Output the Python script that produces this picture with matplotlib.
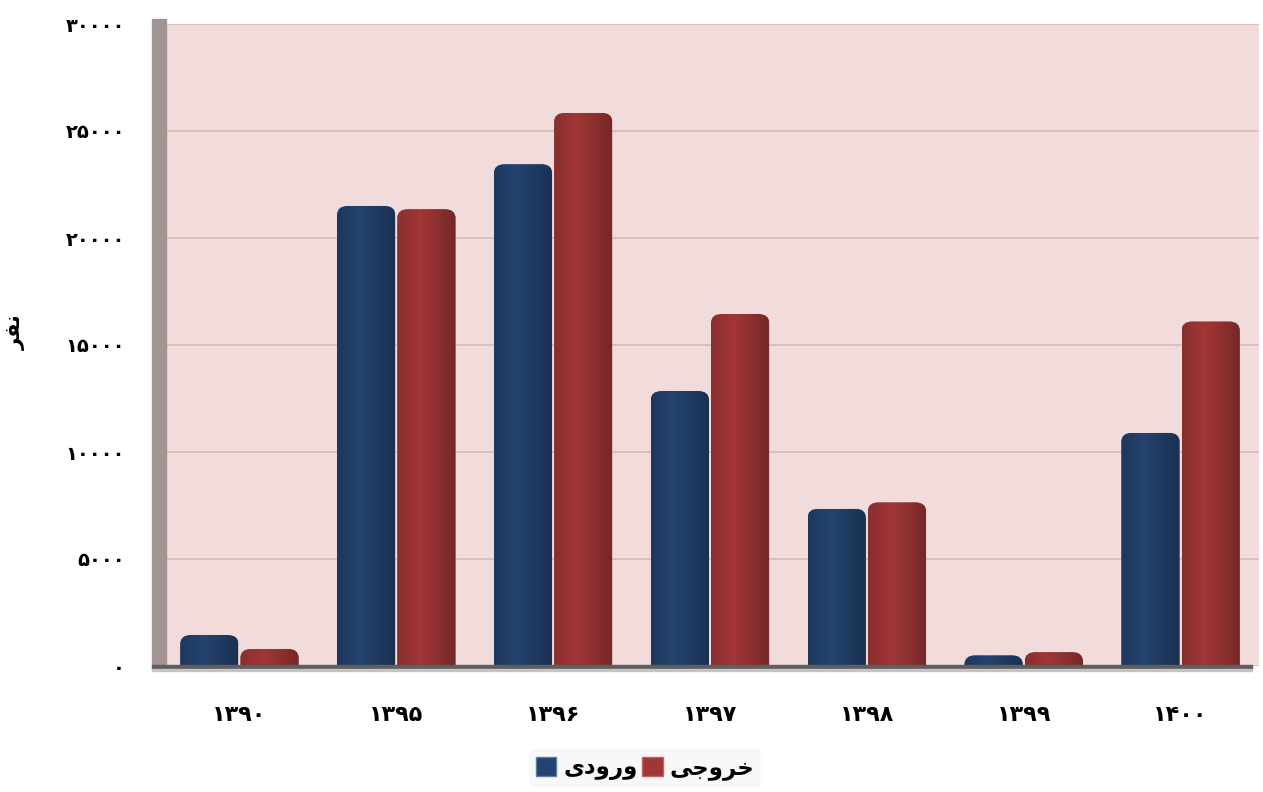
import matplotlib
matplotlib.use("Agg")
import matplotlib.pyplot as plt
import numpy as np
from matplotlib.patches import Rectangle, Patch, FancyBboxPatch

years = ['۱۳۹۰', '۱۳۹۵', '۱۳۹۶', '۱۳۹۷', '۱۳۹۸', '۱۳۹۹', '۱۴۰۰']
entering = [1450, 21500, 23450, 12850, 7350, 500, 10900]
leaving = [800, 21350, 25850, 16450, 7650, 650, 16100]
yticks = [0, 5000, 10000, 15000, 20000, 25000, 30000]

# visual (pre-shaped, left-to-right) forms of Persian words
lbl_enter = '\uFEEF\uFEA9\uFEED\uFEAD\uFEED'      # ورودی
lbl_leave = '\uFEF0\uFE9F\uFEED\uFEAE\uFEA7'      # خروجی
lbl_y = '\uFEAE\uFED4\uFEE7'                      # نفر

fa_digits = str.maketrans('0123456789', '۰۱۲۳۴۵۶۷۸۹')

plt.rcParams['font.family'] = ['DejaVu Sans']

fig = plt.figure(figsize=(12.63, 7.92), dpi=100)
ax = fig.add_axes([161/1263, (792-666)/792, (1259-161)/1263, (666-24)/792])
ax.set_facecolor('#F2DCDB')

x = np.arange(len(years))
w = 0.372
blue = '#23426E'
red = '#A03636'
b1 = ax.bar(x - w/2 - 0.006, entering, w, color=blue, zorder=3, label=lbl_enter)
b2 = ax.bar(x + w/2 + 0.006, leaving, w, color=red, zorder=3, label=lbl_leave)

ax.set_xlim(-0.5, len(years) - 0.5)
ax.set_ylim(0, 30000)

# cylindrical shading overlay + rounded tops
grad = np.linspace(0, 1, 64)
shade = 0.5 * np.abs(grad - 0.38) ** 1.2
rgba = np.zeros((1, 64, 4))
rgba[0, :, 3] = shade
rx = 0.07                      # rounding in x data units
ry = 430.0                     # rounding in y data units
for bars in (b1, b2):
    for bar in bars:
        bx, bw, bh = bar.get_x(), bar.get_width(), bar.get_height()
        clip = FancyBboxPatch((bx, -2 * ry), bw, bh + 2 * ry,
                              boxstyle=f"round,pad=0,rounding_size={rx}",
                              mutation_aspect=ry / rx, transform=ax.transData)
        bar.set_clip_path(clip)
        im = ax.imshow(rgba, extent=[bx, bx + bw, 0, bh], aspect='auto',
                       zorder=4, interpolation='bilinear')
        im.set_clip_path(clip)

ax.set_xlim(-0.5, len(years) - 0.5)
ax.set_ylim(0, 30000)
ax.set_yticks(yticks)
ax.set_yticklabels([str(v).translate(fa_digits) for v in yticks])
ax.set_xticks(x)
ax.set_xticklabels(years)
ax.grid(axis='y', color='#DCBBBA', linewidth=1.3, zorder=1)
ax.tick_params(length=0)
ax.tick_params(axis='y', pad=26, labelsize=14)
ax.tick_params(axis='x', pad=28, labelsize=16)
for t in ax.get_xticklabels() + ax.get_yticklabels():
    t.set_fontweight('bold')
for s in ax.spines.values():
    s.set_visible(False)
ax.set_autoscale_on(False)

# 3D-like side wall and floor
ax.add_patch(Rectangle((-0.008, 0), 0.013, 1.008, transform=ax.transAxes,
                       color='#A39494', clip_on=False, zorder=2))
ax.add_patch(Rectangle((-0.008, -0.004), 1.002, 0.005, transform=ax.transAxes,
                       color='#5E5E5E', clip_on=False, zorder=5))
ax.add_patch(Rectangle((-0.008, -0.008), 1.002, 0.004, transform=ax.transAxes,
                       color='#C4C4C4', clip_on=False, zorder=5))

ax.set_ylabel(lbl_y, fontsize=15, fontweight='bold')
ax.yaxis.set_label_coords(-0.123, 0.52)

handles = [Patch(facecolor=blue, edgecolor='#5A7AA8'), Patch(facecolor=red, edgecolor='#C86060')]
leg = fig.legend(handles, [lbl_enter, lbl_leave], loc='center', ncol=2,
                 bbox_to_anchor=(645/1263, (792-768)/792), frameon=True,
                 prop={'size': 16.5, 'weight': 'bold'}, handlelength=0.9, handleheight=0.9,
                 handletextpad=0.3, columnspacing=0.2, borderpad=0.3)
leg.get_frame().set_facecolor('#F7F7F7')
leg.get_frame().set_edgecolor('none')

fig.savefig('out.png', dpi=100)
